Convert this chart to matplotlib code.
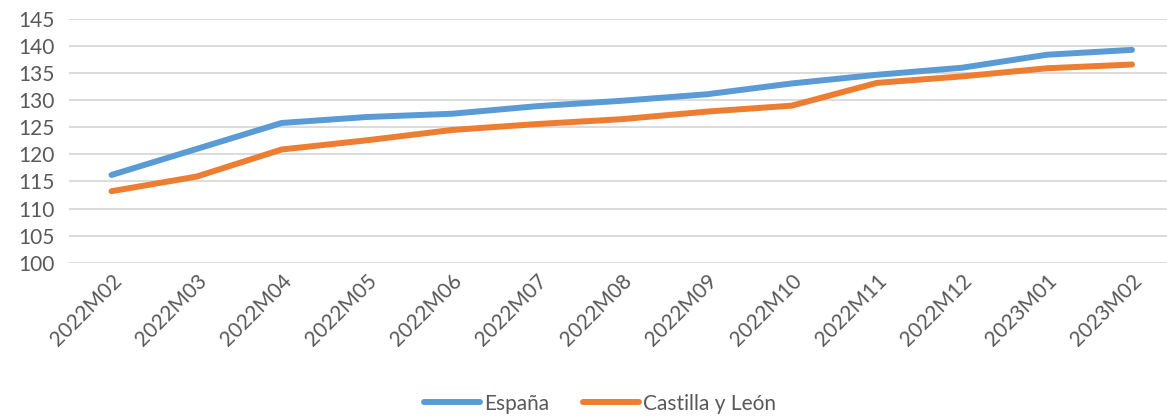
import matplotlib.pyplot as plt

meses = ["2022M02", "2022M03", "2022M04", "2022M05", "2022M06", "2022M07", "2022M08",
         "2022M09", "2022M10", "2022M11", "2022M12", "2023M01", "2023M02"]
espana = [116.2, 121.0, 125.8, 126.9, 127.5, 128.9, 129.9, 131.1, 133.1, 134.7, 136.0, 138.4, 139.3]
castilla = [113.2, 115.9, 120.9, 122.6, 124.5, 125.6, 126.5, 127.9, 129.0, 133.2, 134.4, 135.9, 136.6]
yticks = list(range(100, 146, 5))

plt.rcParams["font.family"] = ["Lato", "DejaVu Sans"]
txt = "#595959"

fig = plt.figure(figsize=(11.67, 4.16), dpi=100)
ax = fig.add_axes([69 / 1167, 1 - 262.7 / 416, (1174.5 - 69) / 1167, (262.7 - 19) / 416])

x = range(len(meses))
ax.plot(x, espana, color="#5B9BD5", lw=4.3, solid_capstyle="round", solid_joinstyle="round", label="España")
ax.plot(x, castilla, color="#ED7D31", lw=4.3, solid_capstyle="round", solid_joinstyle="round", label="Castilla y León")

ax.set_xlim(-0.5, len(meses) - 0.5)
ax.set_ylim(100, 145)
ax.set_yticks(yticks)
ax.set_xticks(list(x))
ax.set_xticklabels(meses, rotation=45, ha="right", rotation_mode="anchor")
ax.tick_params(axis="both", length=0, labelsize=15, colors=txt)
ax.tick_params(axis="y", pad=10)
ax.tick_params(axis="x", pad=6)
ax.grid(axis="y", color="#D9D9D9", lw=1.3)
ax.set_axisbelow(True)
for s in ax.spines.values():
    s.set_visible(False)

leg = fig.legend(loc="center", bbox_to_anchor=(0.514, 0.03), ncol=2, frameon=False,
                 fontsize=15, handlelength=2.7, columnspacing=1.6, handletextpad=0.2)
for t in leg.get_texts():
    t.set_color(txt)

fig.savefig("out.png", dpi=100)
